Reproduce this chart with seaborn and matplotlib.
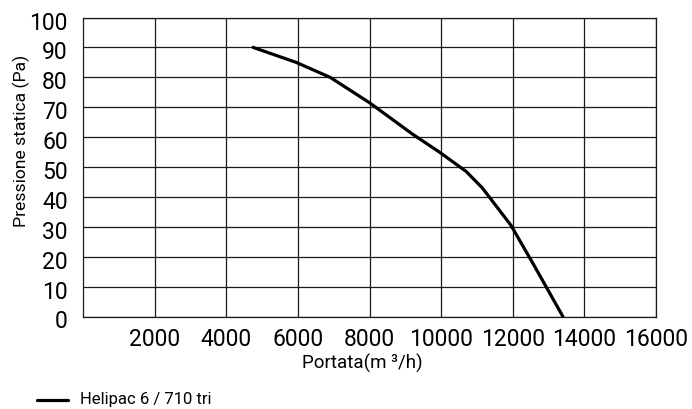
import matplotlib
matplotlib.use("Agg")
import matplotlib.pyplot as plt
import matplotlib.transforms as mtransforms
import seaborn as sns
import pandas as pd

# Data
portata = [4750, 5950, 6900, 8000, 9200, 9950, 10700, 11150, 11950, 12600, 13400]
pressione = [90, 85, 80, 71.5, 61, 55, 48.5, 43, 30.5, 17, 0]
series_name = "Helipac 6 / 710 tri"
x_ticks = [2000, 4000, 6000, 8000, 10000, 12000, 14000, 16000]
y_ticks = [0, 10, 20, 30, 40, 50, 60, 70, 80, 90, 100]

df = pd.DataFrame({"Portata": portata, "Pressione": pressione, "Serie": series_name})

sns.set_style("white")
plt.rcParams['font.family'] = ['Roboto', 'Liberation Sans', 'DejaVu Sans']
plt.rcParams['text.color'] = 'black'
plt.rcParams['axes.labelcolor'] = 'black'
plt.rcParams['xtick.color'] = 'black'
plt.rcParams['ytick.color'] = 'black'

fam = ['Roboto', 'Liberation Sans', 'DejaVu Sans']

W, H = 692, 409
left, right, top, bottom = 83, 656, 17.5, 316.5
fig = plt.figure(figsize=(W / 100, H / 100), dpi=100)
ax = fig.add_axes([left / W, (H - bottom) / H, (right - left) / W, (bottom - top) / H])

sns.lineplot(data=df, x="Portata", y="Pressione", color="black", linewidth=2.3,
             ax=ax, legend=False, sort=False)

ax.set_xlim(0, 16000)
ax.set_ylim(0, 100)
ax.set_xticks(x_ticks)
ax.set_yticks(y_ticks)
ax.set_xticklabels([str(t) for t in x_ticks], fontsize=16.5, family=fam, weight='normal')
ax.set_yticklabels([str(t) for t in y_ticks], fontsize=16.5, family=fam, weight='normal')
ax.tick_params(axis='x', length=0, pad=8)
ax.tick_params(axis='y', length=0, pad=11)
# y labels sit slightly below their gridlines in the reference
offset = mtransforms.ScaledTranslation(0, -3 / 100, fig.dpi_scale_trans)
for lab in ax.get_yticklabels():
    lab.set_transform(lab.get_transform() + offset)

ax.grid(True, color="#1a1a1a", linewidth=0.9)
for s in ax.spines.values():
    s.set_color("#1a1a1a")
    s.set_linewidth(0.9)
    s.set_visible(True)

ax.set_xlabel("Portata(m ³/h)", fontsize=13.5, family=fam)
ax.set_ylabel("Pressione statica (Pa)", fontsize=12.6, family=fam)
ax.xaxis.set_label_coords((362.5 - left) / (right - left), -(363 - bottom) / (bottom - top))
ax.yaxis.set_label_coords(-(left - 21) / (right - left), (bottom - 141) / (bottom - top))
ax.xaxis.label.set_va('center')
ax.yaxis.label.set_va('center')

# legend below the chart
fig.add_artist(plt.Line2D([37 / W, 68 / W], [(H - 400) / H] * 2, color="black",
                          linewidth=2.3, transform=fig.transFigure))
fig.text(80 / W, (H - 399.5) / H, series_name, fontsize=12, family=fam,
         va='center', ha='left')

fig.savefig("out.png", dpi=100)
